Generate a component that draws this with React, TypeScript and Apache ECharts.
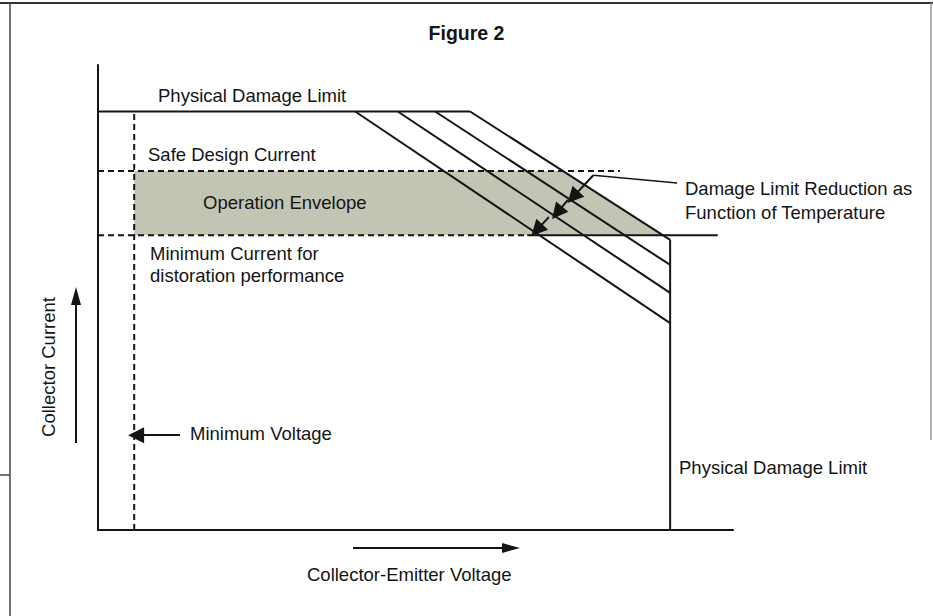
import React, { useEffect, useRef } from "react";
import * as echarts from "echarts";

// ---- data (x: collector-emitter voltage units 0..100, y: collector current units 0..100) ----
const damageLimitTop: number[][] = [[0, 90], [58.6, 90]];
const diagonalStartX: number[] = [40.5, 47.2, 53.1, 58.6];
const diagonalStartY = 90;
const diagonalEndX = 90.1;
const diagonalEndY: number[] = [44.5, 51.0, 57.0, 62.4];
const damageLimitRight: number[][] = [[90.1, 62.4], [90.1, 0]];
const safeDesignCurrent: number[][] = [[0, 77.2], [82.2, 77.2]];
const minCurrentDashed: number[][] = [[0, 63.4], [67.6, 63.4]];
const minCurrentSolid: number[][] = [[67.6, 63.4], [97.6, 63.4]];
const minVoltage: number[][] = [[5.7, 0], [5.7, 90]];
const envelopeX: number[] = [5.7, 73.2, 89.0, 5.7];
const envelopeY: number[] = [77.2, 77.2, 63.4, 63.4];
const leaderLine: number[][] = [[91.2, 74.6], [78.0, 76.3]];
const reductionArrows: number[][][] = [
  [[78.0, 76.3], [74.8, 71.6]],
  [[74.0, 71.0], [72.3, 68.2]],
  [[71.0, 67.3], [69.1, 64.5]],
];
const minVoltageArrow: number[][] = [[12.9, 20.4], [6.0, 20.4]];

const FONT = "'Liberation Sans', Arial, Helvetica, sans-serif";
const INK = "#141414";

export default function App() {
  const ref = useRef<HTMLDivElement>(null);

  useEffect(() => {
    if (!ref.current) return;
    const chart = echarts.init(ref.current, null, { renderer: "svg" });

    const lineStyle = { color: INK, width: 2 };
    const dashed = { color: INK, width: 2, type: [6, 4] as any };

    const simpleLine = (data: number[][], style: any) => ({
      type: "line",
      data,
      symbol: "none",
      lineStyle: style,
      silent: true,
      z: 3,
    });

    const diagonals = diagonalStartX.map((sx, i) =>
      simpleLine([[sx, diagonalStartY], [diagonalEndX, diagonalEndY[i]]], lineStyle)
    );

    const text = (t: string, x: number, y: number, extra: any = {}) => ({
      type: "text",
      x,
      y,
      style: {
        text: t,
        fill: INK,
        font: `18.5px ${FONT}`,
        textVerticalAlign: "middle",
        ...extra,
      },
      z: 10,
    });

    const option: any = {
      animation: false,
      backgroundColor: "#ffffff",
      title: {
        text: "Figure 2",
        left: "center",
        top: 18,
        textStyle: { fontFamily: FONT, fontWeight: "bold", fontSize: 19.5, color: INK },
      },
      grid: { left: 98, right: 200, top: 65, bottom: 86 },
      xAxis: {
        type: "value",
        min: 0,
        max: 100,
        axisLine: { show: true, lineStyle: { color: INK, width: 2 } },
        axisTick: { show: false },
        axisLabel: { show: false },
        splitLine: { show: false },
      },
      yAxis: {
        type: "value",
        min: 0,
        max: 100,
        axisLine: { show: true, lineStyle: { color: INK, width: 2 } },
        axisTick: { show: false },
        axisLabel: { show: false },
        splitLine: { show: false },
      },
      series: [
        {
          type: "custom",
          silent: true,
          z: 1,
          data: [0],
          renderItem: (_params: any, api: any) => {
            const pts = envelopeX.map((x, i) => api.coord([x, envelopeY[i]]));
            return {
              type: "polygon",
              shape: { points: pts },
              style: { fill: "#c3c5b4", stroke: "none" },
            };
          },
        },
        simpleLine(damageLimitTop, lineStyle),
        ...diagonals,
        simpleLine(damageLimitRight, lineStyle),
        simpleLine(safeDesignCurrent, dashed),
        simpleLine(minCurrentDashed, dashed),
        simpleLine(minCurrentSolid, lineStyle),
        simpleLine(minVoltage, dashed),
        simpleLine(leaderLine, { color: INK, width: 1.5 }),
        {
          type: "lines",
          coordinateSystem: "cartesian2d",
          silent: true,
          z: 4,
          symbol: ["none", "triangle"],
          symbolSize: [10, 16],
          lineStyle: { color: INK, width: 2, opacity: 1 },
          itemStyle: { color: INK },
          data: [...reductionArrows, minVoltageArrow].map((c) => ({ coords: c })),
        },
      ],
      graphic: [
        // scan frame
        { type: "line", shape: { x1: 0, y1: 3, x2: 933, y2: 3 }, style: { stroke: "#333", lineWidth: 2 } },
        { type: "line", shape: { x1: 10, y1: 3, x2: 10, y2: 616 }, style: { stroke: "#444", lineWidth: 1.5 } },
        { type: "line", shape: { x1: 0, y1: 475, x2: 10, y2: 475 }, style: { stroke: "#444", lineWidth: 1.5 } },
        { type: "line", shape: { x1: 931, y1: 3, x2: 931, y2: 440 }, style: { stroke: "#999", lineWidth: 1.5 } },
        // axis-direction arrows
        { type: "line", shape: { x1: 76, y1: 443, x2: 76, y2: 300 }, style: { stroke: INK, lineWidth: 2 } },
        { type: "polygon", shape: { points: [[76, 287], [71, 305], [81, 305]] }, style: { fill: INK } },
        { type: "line", shape: { x1: 353, y1: 548, x2: 505, y2: 548 }, style: { stroke: INK, lineWidth: 2 } },
        { type: "polygon", shape: { points: [[520, 548], [502, 543], [502, 553]] }, style: { fill: INK } },
        // labels
        text("Physical Damage Limit", 158, 95),
        text("Safe Design Current", 148, 154),
        text("Operation Envelope", 203, 202),
        text("Minimum Current for", 150, 253),
        text("distoration performance", 150, 275),
        text("Damage Limit Reduction as", 685, 188),
        text("Function of Temperature", 685, 212),
        text("Minimum Voltage", 190, 433),
        text("Physical Damage Limit", 679, 467),
        text("Collector-Emitter Voltage", 307, 574),
        {
          type: "text",
          x: 48,
          y: 367,
          rotation: Math.PI / 2,
          style: {
            text: "Collector Current",
            fill: INK,
            font: `18.5px ${FONT}`,
            textAlign: "center",
            textVerticalAlign: "middle",
          },
          z: 10,
        },
      ],
    };

    chart.setOption(option);
    return () => chart.dispose();
  }, []);

  return (
    <div
      ref={ref}
      style={{ position: "absolute", left: 0, top: 0, width: 933, height: 616, background: "#fff" }}
    />
  );
}
